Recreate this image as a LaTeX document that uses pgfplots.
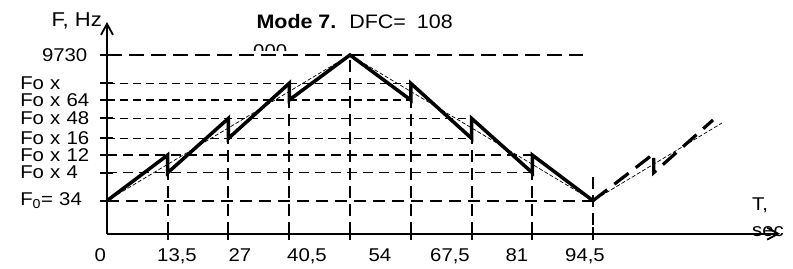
\documentclass[border=0pt]{standalone}
\usepackage{fontspec}
\setmainfont{Liberation Sans}[FakeStretch=1.1]
\usepackage{pgfplots}
\pgfplotsset{compat=1.18}
\usetikzlibrary{arrows.meta}
\newcommand{\lbl}{\fontsize{18.5}{20}\selectfont}
\begin{document}
\begin{tikzpicture}
\begin{axis}[
  x=1pt, y=1pt, xmin=0, xmax=673, ymin=0, ymax=211.7,
  axis lines=left,
  axis line style={line width=2pt, -{Straight Barb[length=11pt,width=12pt,line width=1.8pt]}},
  clip=false,
  tick style={black, line width=2pt},
  major tick length=13pt,
  tick align=center,
  xtick={60.75,121.5,182.25,243,303.75,364.5,425.25,486},
  xticklabels={},
  extra x ticks={0,70,133,200,273,343,410,478},
  extra x tick labels={{\llap{0\hspace{1pt}}},{13,5},27,{40,5},54,{67,5},81,{94,5}},
  extra x tick style={major tick length=0pt, xticklabel style={anchor=base, inner sep=0pt, yshift=-28pt}},
  ytick={33,61,78.7,95.4,115.4,133.7,150.4},
  yticklabels={F\textsubscript{0}= 34, Fo x 4, Fo x 12, Fo x 16, Fo x 48, Fo x 64, Fo x},
  yticklabel style={anchor=east, text width=80pt, align=left, inner sep=0pt},
  extra y ticks={178.7},
  extra y tick labels={9730},
  extra y tick style={yticklabel style={align=right, xshift=-13pt}},
  tick label style={font=\lbl},
  /pgf/number format/assume math mode=true,
]
% horizontal grid
\addplot[black, line width=2.2pt, dash pattern=on 15pt off 7pt] coordinates {(0,178.7)(476,178.7)};
\addplot[black, line width=1.3pt, dash pattern=on 8pt off 5pt] coordinates {(0,150.4)(304,150.4)};
\addplot[black, line width=1.3pt, dash pattern=on 8pt off 5pt] coordinates {(0,133.7)(304,133.7)};
\addplot[black, line width=1.3pt, dash pattern=on 8pt off 5pt] coordinates {(0,115.4)(365,115.4)};
\addplot[black, line width=1.3pt, dash pattern=on 8pt off 5pt] coordinates {(0,95.4)(365,95.4)};
\addplot[black, line width=1.5pt, dash pattern=on 10pt off 6pt] coordinates {(0,78.7)(426,78.7)};
\addplot[black, line width=1.5pt, dash pattern=on 10pt off 6pt] coordinates {(0,61)(426,61)};
\addplot[black, line width=2.2pt, dash pattern=on 12pt off 7pt] coordinates {(0,33)(486,33)};
% vertical grid
\addplot[black, line width=2pt, dash pattern=on 12pt off 6pt] coordinates {(60.75,0)(60.75,61)};
\addplot[black, line width=2pt, dash pattern=on 12pt off 6pt] coordinates {(121.5,0)(121.5,95.4)};
\addplot[black, line width=2pt, dash pattern=on 12pt off 6pt] coordinates {(182.25,0)(182.25,133.7)};
\addplot[black, line width=2pt, dash pattern=on 12pt off 6pt] coordinates {(243,0)(243,178.7)};
\addplot[black, line width=2pt, dash pattern=on 12pt off 6pt] coordinates {(303.75,0)(303.75,133.7)};
\addplot[black, line width=2pt, dash pattern=on 12pt off 6pt] coordinates {(364.5,0)(364.5,95.4)};
\addplot[black, line width=2pt, dash pattern=on 12pt off 6pt] coordinates {(425.25,0)(425.25,61)};
\addplot[black, line width=2pt, dash pattern=on 12pt off 6pt] coordinates {(486,56.7)(486,-6)};
% average trend
\addplot[black, line width=0.7pt, dash pattern=on 4pt off 2pt] coordinates {(0,33)(243,178.7)(486,33)(615,110.7)};
% main sawtooth
\addplot[black, line width=3.5pt, line join=miter] coordinates {(0,33)(60.75,78.7)(60.75,61)(121.5,115.4)(121.5,95.4)(182.25,150.4)(182.25,133.7)(243,178.7)(303.75,133.7)(303.75,150.4)(364.5,95.4)(364.5,115.4)(425.25,61)(425.25,78.7)(486,33)};
% continuation
\addplot[black, line width=3.2pt, dash pattern=on 18pt off 9pt] coordinates {(486,33)(546.75,80)(546.75,61)(606,113.7)};
% texts
\node[anchor=base west, font=\fontsize{19.5}{21}\selectfont] at (axis cs:146,204.7) {\textbf{Mode 7.}\hspace{13pt}DFC=\hspace{11pt}108};
\node[anchor=base east, font=\fontsize{20}{22}\selectfont, inner sep=0pt] at (axis cs:-5,206.7) {F, Hz};
\node[anchor=base west, font=\lbl, inner sep=0pt] at (axis cs:645,23.7) {T,};
\node[anchor=base west, font=\lbl, inner sep=0pt] at (axis cs:645,-3) {sec};
\begin{scope}
\clip (axis cs:146,189.5) rectangle (axis cs:182,183.5);
\node[anchor=base west, font=\lbl, inner sep=0pt] at (axis cs:146,176.4) {000};
\end{scope}
\coordinate (BL) at (axis cs:-107,-34.3);
\coordinate (TR) at (axis cs:686,233.7);
\end{axis}
\pgfresetboundingbox
\path (BL) rectangle (TR);
\end{tikzpicture}
\end{document}
